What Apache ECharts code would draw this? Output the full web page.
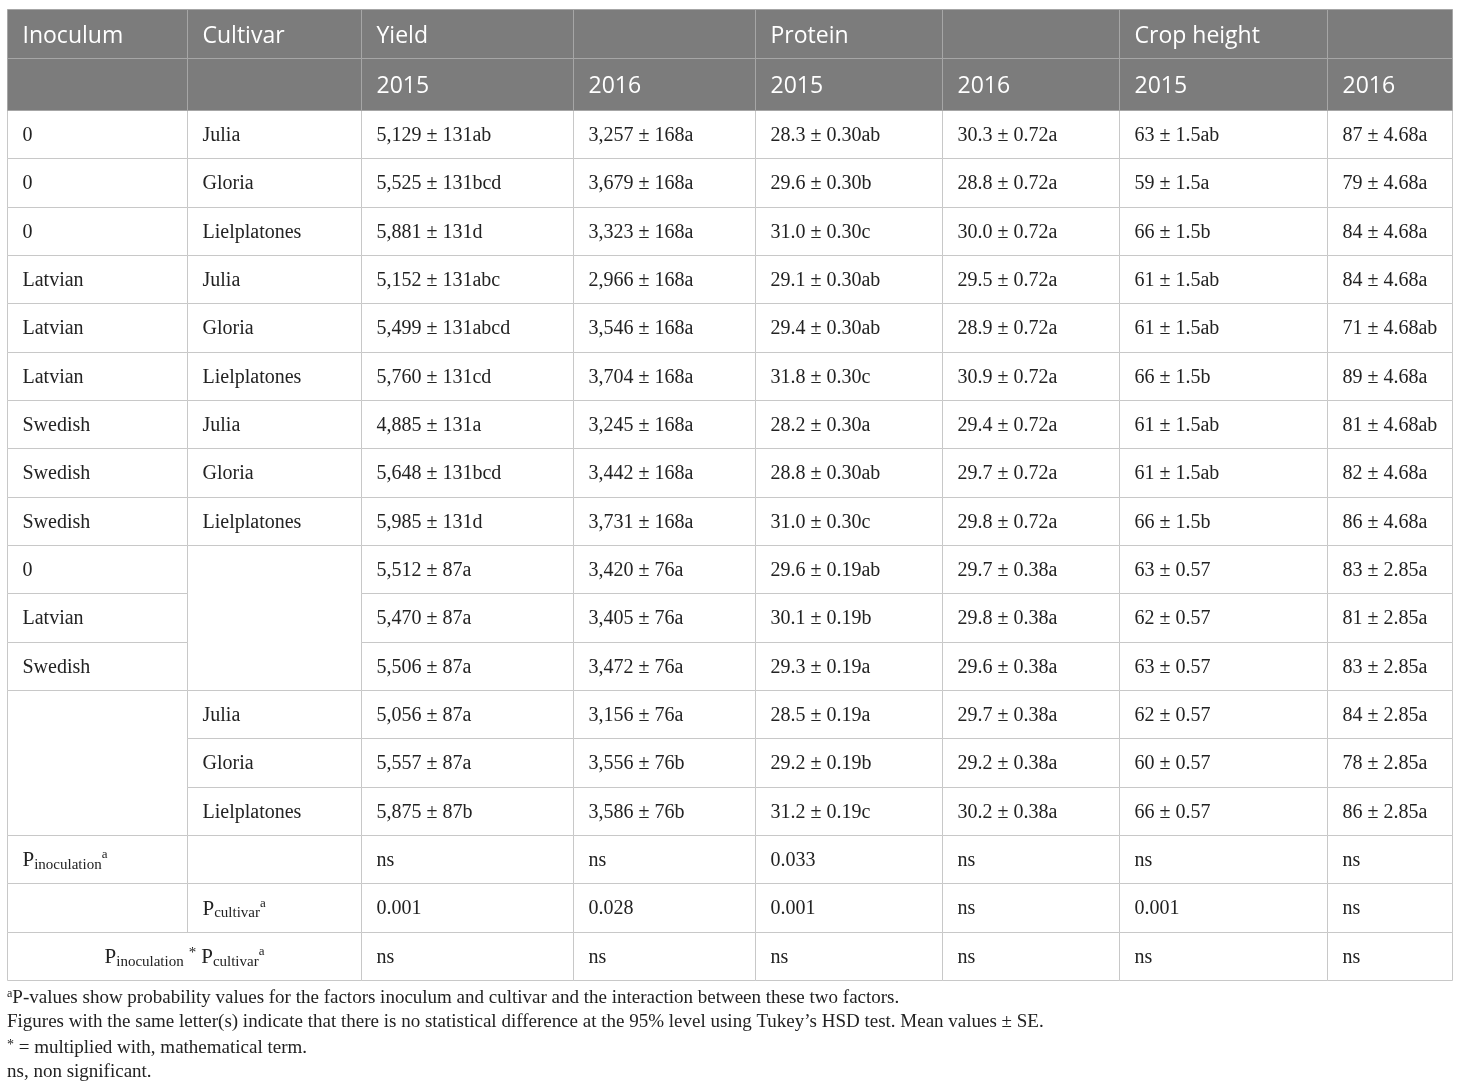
<!DOCTYPE html>
<html>
<head>
<meta charset="utf-8" />
<title>Inoculum x cultivar table</title>
<script src="https://cdn.jsdelivr.net/npm/echarts@6/dist/echarts.min.js"></script>
<style>
  html, body { margin: 0; padding: 0; background: #fff; }
  #main { width: 1460px; height: 1091px; }
</style>
</head>
<body>
<div id="main"></div>
<script type="text/javascript">
// table data, one array per column
var headTop = ['Inoculum', 'Cultivar', 'Yield', '', 'Protein', '', 'Crop height', ''];
var headYears = ['', '', '2015', '2016', '2015', '2016', '2015', '2016'];

var inoculum = ['0', '0', '0', 'Latvian', 'Latvian', 'Latvian', 'Swedish', 'Swedish', 'Swedish',
                '0', 'Latvian', 'Swedish', '', '', ''];
var cultivar = ['Julia', 'Gloria', 'Lielplatones', 'Julia', 'Gloria', 'Lielplatones', 'Julia', 'Gloria', 'Lielplatones',
                '', '', '', 'Julia', 'Gloria', 'Lielplatones'];

var yield2015 = ['5,129 ± 131ab', '5,525 ± 131bcd', '5,881 ± 131d', '5,152 ± 131abc', '5,499 ± 131abcd', '5,760 ± 131cd',
                 '4,885 ± 131a', '5,648 ± 131bcd', '5,985 ± 131d', '5,512 ± 87a', '5,470 ± 87a', '5,506 ± 87a',
                 '5,056 ± 87a', '5,557 ± 87a', '5,875 ± 87b'];
var yield2016 = ['3,257 ± 168a', '3,679 ± 168a', '3,323 ± 168a', '2,966 ± 168a', '3,546 ± 168a', '3,704 ± 168a',
                 '3,245 ± 168a', '3,442 ± 168a', '3,731 ± 168a', '3,420 ± 76a', '3,405 ± 76a', '3,472 ± 76a',
                 '3,156 ± 76a', '3,556 ± 76b', '3,586 ± 76b'];
var protein2015 = ['28.3 ± 0.30ab', '29.6 ± 0.30b', '31.0 ± 0.30c', '29.1 ± 0.30ab', '29.4 ± 0.30ab', '31.8 ± 0.30c',
                   '28.2 ± 0.30a', '28.8 ± 0.30ab', '31.0 ± 0.30c', '29.6 ± 0.19ab', '30.1 ± 0.19b', '29.3 ± 0.19a',
                   '28.5 ± 0.19a', '29.2 ± 0.19b', '31.2 ± 0.19c'];
var protein2016 = ['30.3 ± 0.72a', '28.8 ± 0.72a', '30.0 ± 0.72a', '29.5 ± 0.72a', '28.9 ± 0.72a', '30.9 ± 0.72a',
                   '29.4 ± 0.72a', '29.7 ± 0.72a', '29.8 ± 0.72a', '29.7 ± 0.38a', '29.8 ± 0.38a', '29.6 ± 0.38a',
                   '29.7 ± 0.38a', '29.2 ± 0.38a', '30.2 ± 0.38a'];
var height2015 = ['63 ± 1.5ab', '59 ± 1.5a', '66 ± 1.5b', '61 ± 1.5ab', '61 ± 1.5ab', '66 ± 1.5b',
                  '61 ± 1.5ab', '61 ± 1.5ab', '66 ± 1.5b', '63 ± 0.57', '62 ± 0.57', '63 ± 0.57',
                  '62 ± 0.57', '60 ± 0.57', '66 ± 0.57'];
var height2016 = ['87 ± 4.68a', '79 ± 4.68a', '84 ± 4.68a', '84 ± 4.68a', '71 ± 4.68ab', '89 ± 4.68a',
                  '81 ± 4.68ab', '82 ± 4.68a', '86 ± 4.68a', '83 ± 2.85a', '81 ± 2.85a', '83 ± 2.85a',
                  '84 ± 2.85a', '78 ± 2.85a', '86 ± 2.85a'];

var pInoculation = ['ns', 'ns', '0.033', 'ns', 'ns', 'ns'];
var pCultivar = ['0.001', '0.028', '0.001', 'ns', '0.001', 'ns'];
var pInteraction = ['ns', 'ns', 'ns', 'ns', 'ns', 'ns'];

var footnotes = [
    '{sup|a}P-values show probability values for the factors inoculum and cultivar and the interaction between these two factors.',
    'Figures with the same letter(s) indicate that there is no statistical difference at the 95% level using Tukey\u2019s HSD test. Mean values ± SE.',
    '{star|*} = multiplied with, mathematical term.',
    'ns, non significant.'
];

// layout (table units = pixels inside the grid)
var colEdges = [0, 180, 354, 566, 748, 935, 1112, 1320, 1445];
var rowEdges = [0, 49, 101];
for (var k = 1; k <= 18; k++) rowEdges.push(101 + k * (870 / 18));

var valueCols = [yield2015, yield2016, protein2015, protein2016, height2015, height2016];

// build cell list
var cells = [];
function addCell(c, r, cs, rs, text, head, center) {
    cells.push({c: c, r: r, cs: cs, rs: rs, text: text, head: !!head, center: !!center});
}
headTop.forEach(function (t, i) { addCell(i, 0, 1, 1, t, true); });
headYears.forEach(function (t, i) { addCell(i, 1, 1, 1, t, true); });
for (var i = 0; i < inoculum.length; i++) {
    var r = i + 2;
    if (i < 12) addCell(0, r, 1, 1, inoculum[i]);
    else if (i === 12) addCell(0, r, 1, 3, '');
    if (i < 9 || i >= 12) addCell(1, r, 1, 1, cultivar[i]);
    else if (i === 9) addCell(1, r, 1, 3, '');
    valueCols.forEach(function (col, j) { addCell(j + 2, r, 1, 1, col[i]); });
}
addCell(0, 17, 1, 1, '{p|P}{sub|inoculation}{sup|a}');
addCell(1, 17, 1, 1, '');
pInoculation.forEach(function (t, j) { addCell(j + 2, 17, 1, 1, t); });
addCell(0, 18, 1, 1, '');
addCell(1, 18, 1, 1, '{p|P}{sub|cultivar}{sup|a}');
pCultivar.forEach(function (t, j) { addCell(j + 2, 18, 1, 1, t); });
addCell(0, 19, 2, 1, '{p|P}{sub|inoculation} {star|*} {p|P}{sub|cultivar}{sup|a}', false, true);
pInteraction.forEach(function (t, j) { addCell(j + 2, 19, 1, 1, t); });

var serif = '"Liberation Serif", "Times New Roman", serif';
var richStyles = {
    p: {fontSize: 21, fontFamily: serif, lineHeight: 24, fill: '#222', verticalAlign: 'middle'},
    sub: {fontSize: 15, fontFamily: serif, lineHeight: 17, fill: '#222', verticalAlign: 'bottom'},
    sup: {fontSize: 13, fontFamily: serif, lineHeight: 11, fill: '#222', verticalAlign: 'top'},
    star: {fontSize: 15, fontFamily: serif, lineHeight: 15, fill: '#222', verticalAlign: 'top'}
};

var myChart = echarts.init(document.getElementById('main'));

function renderCell(params, api) {
    var cell = cells[params.dataIndex];
    var p0 = api.coord([colEdges[cell.c], rowEdges[cell.r]]);
    var p1 = api.coord([colEdges[cell.c + cell.cs], rowEdges[cell.r + cell.rs]]);
    var x0 = Math.round(p0[0]) + 0.5, y0 = Math.round(p0[1]) + 0.5;
    var x1 = Math.round(p1[0]) + 0.5, y1 = Math.round(p1[1]) + 0.5;
    var children = [{
        type: 'rect',
        shape: {x: x0, y: y0, width: x1 - x0, height: y1 - y0},
        style: {
            fill: cell.head ? '#7c7c7c' : '#ffffff',
            stroke: cell.head ? '#a6a6a6' : '#c8c8c8',
            lineWidth: 1
        },
        z2: cell.head ? 2 : 1
    }];
    if (cell.text) {
        var txt = {
            type: 'text',
            z2: 5,
            style: {
                text: cell.text,
                x: cell.center ? (x0 + x1) / 2 : x0 + 15,
                y: (y0 + y1) / 2 + (cell.head ? 2 : 1),
                align: cell.center ? 'center' : 'left',
                verticalAlign: 'middle'
            }
        };
        if (cell.head) {
            txt.style.fill = '#ffffff';
            txt.style.font = '23px "Open Sans", sans-serif';
        } else {
            txt.style.fill = '#222222';
            txt.style.font = '20px ' + serif;
            txt.style.rich = richStyles;
        }
        children.push(txt);
    }
    return {type: 'group', children: children};
}

var footGraphics = footnotes.map(function (line, i) {
    return {
        type: 'text',
        left: 7,
        top: 988 + i * 25,
        style: {
            text: line,
            font: '19px ' + serif,
            fill: '#222',
            rich: {
                sup: {fontSize: 12, fontFamily: serif, fill: '#222', verticalAlign: 'top', lineHeight: 20},
                star: {fontSize: 14, fontFamily: serif, fill: '#222', verticalAlign: 'top', lineHeight: 20}
            }
        }
    };
});

var option = {
    animation: false,
    grid: {left: 7, right: 8, top: 9, bottom: 111},
    xAxis: {type: 'value', min: 0, max: colEdges[colEdges.length - 1], show: false},
    yAxis: {type: 'value', min: 0, max: rowEdges[rowEdges.length - 1], inverse: true, show: false},
    graphic: footGraphics,
    series: [{
        type: 'custom',
        coordinateSystem: 'cartesian2d',
        clip: false,
        renderItem: renderCell,
        encode: {x: 0, y: 1},
        data: cells.map(function (c) { return [colEdges[c.c], rowEdges[c.r]]; })
    }]
};
myChart.setOption(option);
</script>
</body>
</html>
